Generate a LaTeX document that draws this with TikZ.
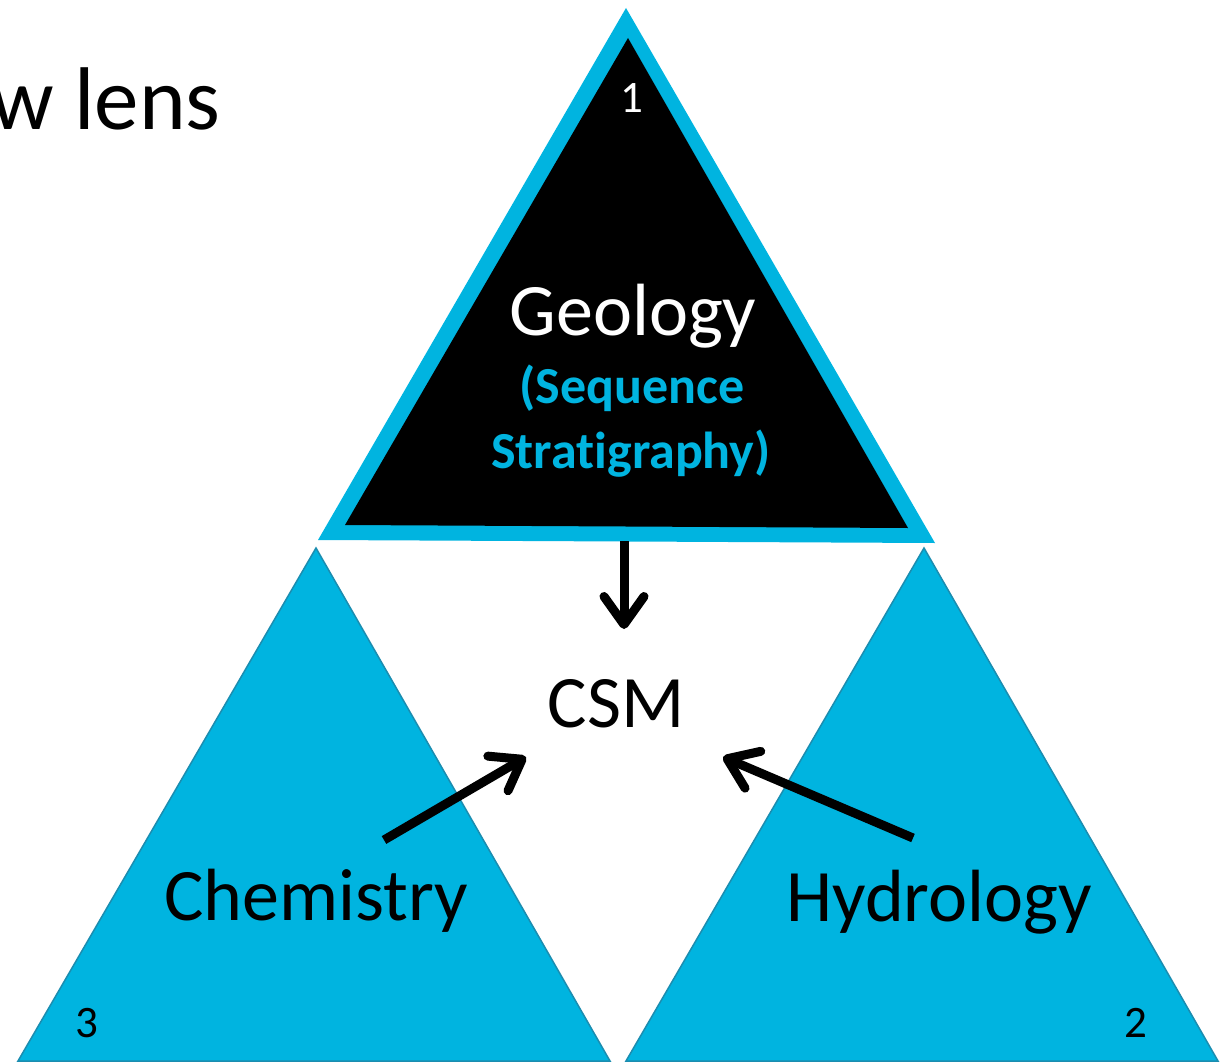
\documentclass[tikz,border=0pt]{standalone}
\usepackage{fontspec}
\setmainfont{Carlito}[Ligatures=NoCommon]
\usetikzlibrary{arrows.meta}
\definecolor{sky}{HTML}{00B4E0}
\definecolor{skyedge}{HTML}{1B8DB0}
\tikzset{
  x=1pt, y=-1pt,
  label text/.style={inner sep=0pt, font=\fontsize{74}{80}\selectfont},
  corner num/.style={inner sep=0pt, font=\fontsize{45}{48}\selectfont},
  sub text/.style={inner sep=0pt, text=sky, font=\fontsize{52}{56}\selectfont\bfseries},
  lower tri/.style={fill=sky, draw=skyedge, line width=1.5pt, line join=miter},
  flow/.style={line width=9pt, -{Straight Barb[length=28pt, width=40pt, line width=9pt, round]}},
}
\begin{document}
\begin{tikzpicture}
  \clip (0,0) rectangle (1223,1062);
  \fill[white] (0,0) rectangle (1223,1062);

  % heading, running off the left edge
  \node[anchor=base east, inner sep=0pt, font=\fontsize{89}{92}\selectfont] (head) at (221,129) {w lens};

  % lower triangles
  \draw[lower tri] (316,548) -- (610,1061) -- (18,1061) -- cycle;
  \draw[lower tri] (924,548) -- (1218,1061) -- (626,1061) -- cycle;

  % top triangle: cyan rim around a black core
  \fill[sky] (626,8) -- (935,543) -- (318,540) -- cycle;
  \fill[black] (628,38) -- (908,528) -- (345,525) -- cycle;

  % labels
  \node[corner num, text=white, anchor=base] (n1) at (632,113) {1};
  \node[label text, text=white, anchor=base] (geo) at (633,335) {Geology};
  \node[sub text, anchor=base] (seq) at (632,403) {(Sequence};
  \node[sub text, anchor=base] (strat) at (631,468) {Stratigraphy)};
  \node[label text, anchor=base] (csm) at (616,727) {CSM};
  \node[label text, anchor=base] (chem) at (316,920) {Chemistry};
  \node[label text, anchor=base] (hydro) at (939,921) {Hydrology};
  \node[corner num, anchor=base] (n3) at (87,1037) {3};
  \node[corner num, anchor=base] (n2) at (1136,1037) {2};

  % arrow end points
  \coordinate (geoOut) at (624,541);
  \coordinate (csmTop) at (624,629);
  \coordinate (chemOut) at (384,840);
  \coordinate (csmLeft) at (526,757);
  \coordinate (hydroOut) at (913,838);
  \coordinate (csmRight) at (723,757);

  \draw[flow] (geoOut) -- (csmTop);
  \draw[flow] (chemOut) -- (csmLeft);
  \draw[flow] (hydroOut) -- (csmRight);
\end{tikzpicture}
\end{document}
